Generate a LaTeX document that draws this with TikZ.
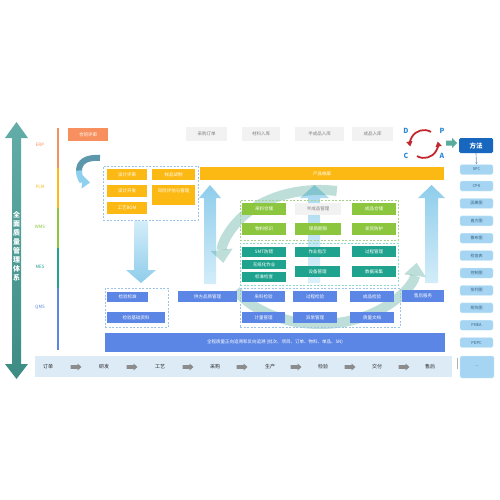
\documentclass[tikz,border=0pt]{standalone}
\usepackage{fontspec}
\setmainfont{Noto Sans CJK SC}
\usetikzlibrary{arrows.meta}
\definecolor{corange}{HTML}{F7905E}
\definecolor{cyellow}{HTML}{FDB913}
\definecolor{cgreen}{HTML}{8CC63F}
\definecolor{cteal}{HTML}{1FA38E}
\definecolor{cblue}{HTML}{5B86E5}
\definecolor{cgraybox}{HTML}{F2F2F2}
\definecolor{cgraytxt}{HTML}{7F7F7F}
\definecolor{carrowA}{HTML}{8FCDEB}
\definecolor{carrowB}{HTML}{D3EDF9}
\definecolor{cproc}{HTML}{DDEBF7}
\definecolor{ctool}{HTML}{A5D5F3}
\definecolor{ctooltxt}{HTML}{3A5F80}
\definecolor{cfangfa}{HTML}{1767BF}
\definecolor{cred}{HTML}{C1272D}
\definecolor{cletter}{HTML}{2A87D8}
\definecolor{cbigA}{HTML}{62ADA8}
\definecolor{cbigB}{HTML}{3D8C84}
\definecolor{ccycle}{HTML}{3A9D8C}
\definecolor{cdashblue}{HTML}{9DC3E6}
\definecolor{cdashgreen}{HTML}{A9D18E}
\definecolor{cdashteal}{HTML}{8FDBC9}
\definecolor{ccurveD}{HTML}{5D97AC}
\definecolor{ccurveL}{HTML}{8ED0EE}
\definecolor{cpa}{HTML}{8C8C8C}
\newcommand\B[7]{\node[#1,minimum width={(#5-#3)*1pt},minimum height={(#6-#4)*1pt}] (#2) at ({(#3+#5)/2},{(#4+#6)/2}) {#7};}
% fat arrow: colour, cx, cy, half length, head length, shaft half height, head half height
\newcommand\FA[7]{\fill[#1] ({#2-#4},{#3-#6}) -- ({#2+#4-#5},{#3-#6}) -- ({#2+#4-#5},{#3-#7}) -- ({#2+#4},#3) -- ({#2+#4-#5},{#3+#7}) -- ({#2+#4-#5},{#3+#6}) -- ({#2-#4},{#3+#6}) -- cycle;}
\begin{document}
\begin{tikzpicture}[x=1pt,y=-1pt,
  bx/.style={rectangle,inner sep=0pt,font=\fontsize{4.5}{5}\selectfont,text=white},
  obox/.style={bx,fill=corange},
  ybox/.style={bx,fill=cyellow},
  gbox/.style={bx,fill=cgreen},
  tbox/.style={bx,fill=cteal},
  bbox/.style={bx,fill=cblue},
  graybox/.style={bx,fill=cgraybox,text=cgraytxt},
  toolbox/.style={bx,fill=ctool,draw=carrowB,line width=0.4pt,rounded corners=1.5pt,text=ctooltxt,font=\fontsize{4}{5}\selectfont},
  grpblue/.style={rectangle,draw=cdashblue,line width=0.9pt,dash pattern=on 2pt off 1.5pt,inner sep=0pt},
  grpgreen/.style={grpblue,draw=cdashgreen},
  grpteal/.style={grpblue,draw=cdashteal},
  sidelbl/.style={font=\fontsize{4.5}{5}\selectfont,inner sep=0pt},
  proclbl/.style={font=\fontsize{5}{6}\selectfont,text=black!85,inner sep=0pt},
  pdca/.style={font=\fontsize{7}{8}\selectfont\bfseries,text=cletter,inner sep=0pt},
  cyc/.style={draw=ccycle,draw opacity=0.33,fill opacity=0.33,line width=10pt,-{Triangle[length=13pt,width=22pt,line width=0pt]}},
  pdarc/.style={draw=cred,line width=1.8pt,-{Triangle[length=5pt,width=6pt]}}
]
\useasboundingbox (0,0) rectangle (500,500);

% big left double arrow
\shade[top color=cbigA,bottom color=cbigB] (16.5,122) -- (28,138) -- (21,138) -- (21,364) -- (28,364) -- (16.5,379) -- (5,364) -- (12,364) -- (12,138) -- (5,138) -- cycle;
\node[font=\fontsize{7}{9}\selectfont\bfseries,text=white,align=center,inner sep=0pt] (vt) at (16.5,246) {全\\面\\质\\量\\管\\理\\体\\系};

% system colour line
\draw[corange,line width=2pt] (58,128) -- (58,168);
\draw[cyellow,line width=2pt] (58,168) -- (58,208);
\draw[cgreen,line width=2pt] (58,208) -- (58,248);
\draw[cteal,line width=2pt] (58,248) -- (58,288);
\draw[cblue,line width=2pt] (58,288) -- (58,350);
\node[sidelbl,text=corange] (erp) at (40,145) {ERP};
\node[sidelbl,text=cyellow] (plm) at (40,187) {PLM};
\node[sidelbl,text=cgreen] (wms) at (40,227) {WMS};
\node[sidelbl,text=cteal] (mes) at (40,267) {MES};
\node[sidelbl,text=cblue] (qms) at (40,307) {QMS};

% light blue arrows
\shade[top color=carrowB,bottom color=carrowA] (134,221) -- (148,221) -- (148,270) -- (156,270) -- (141,283) -- (126,270) -- (134,270) -- cycle;
\shade[top color=carrowA,bottom color=carrowB] (210,185) -- (221,198) -- (216,198) -- (216,284) -- (204,284) -- (204,198) -- (199,198) -- cycle;
\shade[top color=carrowA,bottom color=carrowB,opacity=0.8] (314.5,185) -- (329,198) -- (320,198) -- (320,283) -- (308,283) -- (308,198) -- (300,198) -- cycle;
\shade[top color=carrowA,bottom color=carrowB] (431.5,185) -- (445,198) -- (438,198) -- (438,283) -- (425,283) -- (425,198) -- (418,198) -- cycle;

% cycle arcs
\draw[cyc] (336.8,191) arc[start angle=80,end angle=185,x radius=97pt,y radius=67pt];
\draw[cyc] (236,290.5) arc[start angle=210,end angle=355,x radius=97pt,y radius=67pt];

% curved arrow near ERP
\draw[ccurveD,line width=6pt] (100,158) .. controls (86,157) and (79,162) .. (79,171);
\draw[ccurveL,line width=6pt,-{Triangle[length=8pt,width=13pt]}] (79,170.5) .. controls (79,178) and (83,182) .. (90,182.5);

% top row
\B{obox}{ht}{68}{128}{108}{141}{合同评审}
\B{graybox}{po}{186}{127}{227}{141}{采购订单}
\B{graybox}{mi}{242}{127}{280}{141}{材料入库}
\B{graybox}{si}{295}{127}{344}{141}{半成品入库}
\B{graybox}{fi}{352}{127}{393}{141}{成品入库}

% PLM group
\B{grpblue}{g1}{103}{166}{198}{220}{}
\B{ybox}{y1}{107}{169}{147}{180}{设计评审}
\B{ybox}{y2}{152}{169}{195}{180}{样品试制}
\B{ybox}{y3}{107}{185}{147}{197}{设计开发}
\B{ybox}{y4}{152}{185}{195}{205}{}
\node[bx] (y4t) at (173.5,191) {风险评估与管理};
\B{ybox}{y5}{107}{202}{147}{214}{工艺BOM}
\B{ybox}{yb}{200}{167}{444}{180}{产品档案}

% WMS group
\B{grpgreen}{g2}{240}{200}{398}{240}{}
\B{gbox}{w1}{242}{203}{286}{215}{来料仓储}
\B{graybox}{w2}{295}{203}{341}{215}{半成品管理}
\B{gbox}{w3}{352}{203}{396}{215}{成品仓储}
\B{gbox}{w4}{242}{223}{286}{235}{物料标识}
\B{gbox}{w5}{295}{223}{341}{235}{保质期限}
\B{gbox}{w6}{352}{223}{396}{235}{发货防护}

% MES group
\B{grpteal}{g3}{240}{243}{398}{285}{}
\B{tbox}{m1}{242}{247}{286}{257}{SMT防错}
\B{tbox}{m2}{242}{260}{286}{269}{无纸化作业}
\B{tbox}{m3}{242}{272}{286}{282}{标准检查}
\B{tbox}{m4}{295}{247}{340}{257}{作业指示}
\B{tbox}{m5}{295}{266}{340}{277}{设备管理}
\B{tbox}{m6}{352}{246}{396}{257}{过程管理}
\B{tbox}{m7}{352}{266}{396}{277}{数据采集}

% QMS groups
\B{grpblue}{g4}{105}{288}{168}{327}{}
\B{bbox}{q1}{107}{292}{148}{302}{检验标准}
\B{bbox}{q2}{107}{312}{165}{323}{检验基础资料}
\B{bbox}{q3}{178}{291}{237}{302}{供方品质管理}
\B{grpblue}{g5}{240}{288}{400}{327}{}
\B{bbox}{q4}{242}{291}{285}{302}{来料检验}
\B{bbox}{q5}{293}{291}{337}{302}{过程检验}
\B{bbox}{q6}{350}{291}{394}{302}{成品检验}
\B{bbox}{q7}{242}{312}{285}{323}{计量管理}
\B{bbox}{q8}{293}{312}{337}{323}{异常管理}
\B{bbox}{q9}{350}{312}{394}{323}{质量文档}
\B{bbox}{q10}{402}{290}{444}{302}{售后服务}
\B{bbox}{trace}{105}{333}{445}{352}{全程质量正向追溯和反向追溯 (批次、项目、订单、物料、单品、SN)}

% process bar
\B{bx,fill=cproc}{proc}{35}{356}{452}{377}{}
\node[proclbl] (p1) at (48,366.5) {订单};
\node[proclbl] (p2) at (104,366.5) {研发};
\node[proclbl] (p3) at (160,366.5) {工艺};
\node[proclbl] (p4) at (215,366.5) {采购};
\node[proclbl] (p5) at (270,366.5) {生产};
\node[proclbl] (p6) at (323,366.5) {检验};
\node[proclbl] (p7) at (377,366.5) {交付};
\node[proclbl] (p8) at (430,366.5) {售后};
\foreach \cx in {76,132,188,242,296,350,404}{
  \FA{cpa}{\cx}{367}{5.5}{4}{1.8}{3.6}
}
\coordinate (s1) at (457,358);
\coordinate (s2) at (457,369);
\draw[cgraytxt!60,line width=0.6pt] (s1) -- (s2);

% PDCA
\draw[pdarc] (431,131.9) arc[start angle=60,end angle=190,radius=14pt];
\draw[pdarc] (417,156.1) arc[start angle=240,end angle=370,radius=14pt];
\node[pdca] (ld) at (406,131) {D};
\node[pdca] (lp) at (442,131) {P};
\node[pdca] (lc) at (406,156) {C};
\node[pdca] (la) at (442,156) {A};
\FA{ccycle!85}{451.5}{143}{5.5}{5}{2.5}{5}

% methods column
\node[bx,fill=cfangfa,rounded corners=1.5pt,minimum width=34pt,minimum height=15pt,font=\fontsize{6.5}{7}\selectfont\bfseries] (ff) at (476,145.5) {方法};
\node[toolbox,minimum width=33pt,minimum height=10pt] (t0) at (476.5,169.5) {SPC};
\foreach \lbl [count=\i] in {CPK,因果图,直方图,散布图,检查表,控制图,排列图,矩阵图,FMEA,PDPC}{
  \node[toolbox,minimum width=33pt,minimum height=10pt] (t\i) at (476.5,{186+17.4*(\i-1)}) {\lbl};
}
\draw[cfangfa!70,line width=0.6pt,-{Stealth[length=2pt,width=2pt]}] (ff.south) -- (t0.north);
\node[toolbox,minimum width=34pt,minimum height=22pt,text=cgraytxt] (tmore) at (477,367) {—};
\end{tikzpicture}
\end{document}
